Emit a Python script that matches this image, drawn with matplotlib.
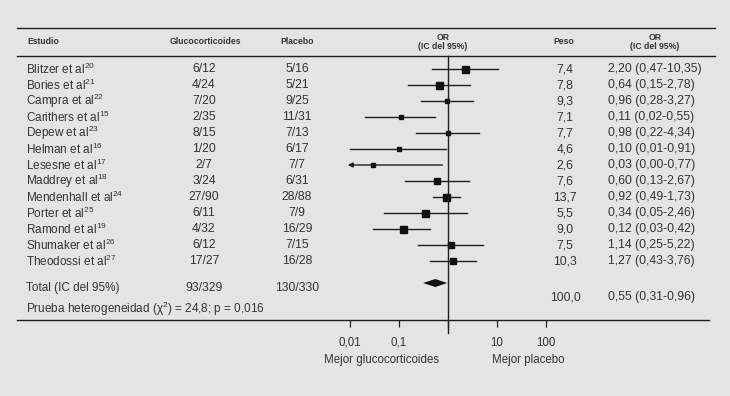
import matplotlib
matplotlib.use("Agg")
import matplotlib.pyplot as plt
from matplotlib.ticker import FixedLocator, FixedFormatter, NullLocator

# datos del metaanalisis
studies = ["Blitzer", "Bories", "Campra", "Carithers", "Depew", "Helman", "Lesesne",
           "Maddrey", "Mendenhall", "Porter", "Ramond", "Shumaker", "Theodossi"]
refs = [20, 21, 22, 15, 23, 16, 17, 18, 24, 25, 19, 26, 27]
gluco = ["6/12", "4/24", "7/20", "2/35", "8/15", "1/20", "2/7", "3/24", "27/90",
         "6/11", "4/32", "6/12", "17/27"]
placebo = ["5/16", "5/21", "9/25", "11/31", "7/13", "6/17", "7/7", "6/31", "28/88",
           "7/9", "16/29", "7/15", "16/28"]
weight = [7.4, 7.8, 9.3, 7.1, 7.7, 4.6, 2.6, 7.6, 13.7, 5.5, 9.0, 7.5, 10.3]
odds = [2.20, 0.64, 0.96, 0.11, 0.98, 0.10, 0.03, 0.60, 0.92, 0.34, 0.12, 1.14, 1.27]
ci_low = [0.47, 0.15, 0.28, 0.02, 0.22, 0.01, 0.00, 0.13, 0.49, 0.05, 0.03, 0.25, 0.43]
ci_high = [10.35, 2.78, 3.27, 0.55, 4.34, 0.91, 0.77, 2.67, 1.73, 2.46, 0.42, 5.22, 3.76]

total_gluco = "93/329"
total_placebo = "130/330"
total_weight = 100.0
total_or, total_low, total_high = 0.55, 0.31, 0.96
heterog = "Prueba heterogeneidad (χ$^{\\mathregular{2}}$) = 24,8; p = 0,016"

xticks = [0.01, 0.1, 1, 10, 100]
xtick_labels = ["0,01", "0,1", "", "10", "100"]

# estilo
box_px = [7, 7, 5, 4, 4, 4, 4, 6, 7, 7, 7, 6, 6]
BG = "#e4e4e4"
TXT = "#333333"
LN = "#1e1e1e"
W, H = 730, 396
ROW0, STEP = 69, 16
X0PIX, PXDEC = 448, 49      # pixel of OR=1, pixels per decade
ARROW_MIN = 0.009

plt.rcParams['font.family'] = ['Liberation Sans', 'DejaVu Sans']
plt.rcParams['mathtext.fontset'] = 'custom'
plt.rcParams['mathtext.rm'] = 'Liberation Sans'

def num(v, d):
    return f"{v:.{d}f}".replace(".", ",")

fig = plt.figure(figsize=(W / 100, H / 100), dpi=100, facecolor=BG)

# capa de texto en pixeles
ax = fig.add_axes([0, 0, 1, 1])
ax.set_xlim(0, W)
ax.set_ylim(H, 0)
ax.axis('off')

# eje del forest plot
left, right, top, bottom = 17, 709, 56, 320
fx = fig.add_axes([left / W, (H - bottom) / H, (right - left) / W, (bottom - top) / H])
fx.patch.set_visible(False)
fx.set_xscale('log')
fx.set_xlim(10 ** ((left - X0PIX) / PXDEC), 10 ** ((right - X0PIX) / PXDEC))
fx.set_ylim(bottom, top)
for s in ['top', 'left', 'right']:
    fx.spines[s].set_visible(False)
fx.spines['bottom'].set_color(LN)
fx.spines['bottom'].set_linewidth(1.0)
fx.yaxis.set_visible(False)
fx.xaxis.set_major_locator(FixedLocator(xticks))
fx.xaxis.set_major_formatter(FixedFormatter(xtick_labels))
fx.xaxis.set_minor_locator(NullLocator())
fx.tick_params(axis='x', direction='out', length=5, width=0.9, color=LN,
               labelsize=8.3, labelcolor=TXT, pad=7)

# cabecera
ax.plot([17, 715], [28, 28], color=LN, lw=1.0)
ax.plot([17, 715], [56, 56], color=LN, lw=1.0)
hk = dict(fontsize=6.2, fontweight='bold', color=TXT, va='center')
ax.text(27, 42, "Estudio", ha='left', **hk)
ax.text(205, 42, "Glucocorticoides", ha='center', **hk)
ax.text(297, 42, "Placebo", ha='center', **hk)
ax.text(443, 42, "OR\n(IC del 95%)", ha='center', linespacing=1.0, **hk)
ax.text(564, 42, "Peso", ha='center', **hk)
ax.text(655, 42, "OR\n(IC del 95%)", ha='center', linespacing=1.0, **hk)

# filas
nk = dict(fontsize=8.5, color=TXT, va='center')
bk = dict(fontsize=8.7, color=TXT, va='center')
for i, name in enumerate(studies):
    y = ROW0 + STEP * i
    ax.text(26, y, f"{name} et al$^{{\\mathregular{{{refs[i]}}}}}$", ha='left', **nk)
    ax.text(204, y, gluco[i], ha='center', **bk)
    ax.text(297, y, placebo[i], ha='center', **bk)
    ax.text(565, y, num(weight[i], 1), ha='center', **bk)
    ax.text(608, y, f"{num(odds[i], 2)} ({num(ci_low[i], 2)}-{num(ci_high[i], 2)})",
            ha='left', **bk)
    if ci_low[i] > 0:
        fx.plot([ci_low[i], ci_high[i]], [y, y], color=LN, lw=1.0, clip_on=False)
    else:
        fx.annotate("", xy=(ARROW_MIN, y), xytext=(ci_high[i], y),
                    arrowprops=dict(arrowstyle='-|>', color=LN, lw=1.0,
                                    mutation_scale=7, shrinkA=0, shrinkB=0),
                    annotation_clip=False)
    fx.plot(odds[i], y, marker='s', ms=box_px[i] * 0.72, color='#111111',
            mec='#111111', lw=0, clip_on=False)

# total
ty = 288
ax.text(26, ty, "Total (IC del 95%)", ha='left', **nk)
ax.text(204, ty, total_gluco, ha='center', **bk)
ax.text(297, ty, total_placebo, ha='center', **bk)
ax.text(565, ty + 9, num(total_weight, 1), ha='center', **bk)
ax.text(608, ty + 9, f"{num(total_or, 2)} ({num(total_low, 2)}-{num(total_high, 2)})",
        ha='left', **bk)
dy = ty - 5
fx.fill([total_low, total_or, total_high, total_or], [dy, dy - 4, dy, dy + 4],
        color='#111111', lw=0, clip_on=False)

ax.text(26, 309, heterog, ha='left', **nk)

# linea de no efecto
fx.plot([1, 1], [top, 333], color=LN, lw=1.0, clip_on=False)

# rotulos inferiores
ax.text(381, 360, "Mejor glucocorticoides", ha='center', va='center', fontsize=8.3, color=TXT)
ax.text(528, 360, "Mejor placebo", ha='center', va='center', fontsize=8.3, color=TXT)

fig.savefig("out.png", dpi=100, facecolor=BG)
